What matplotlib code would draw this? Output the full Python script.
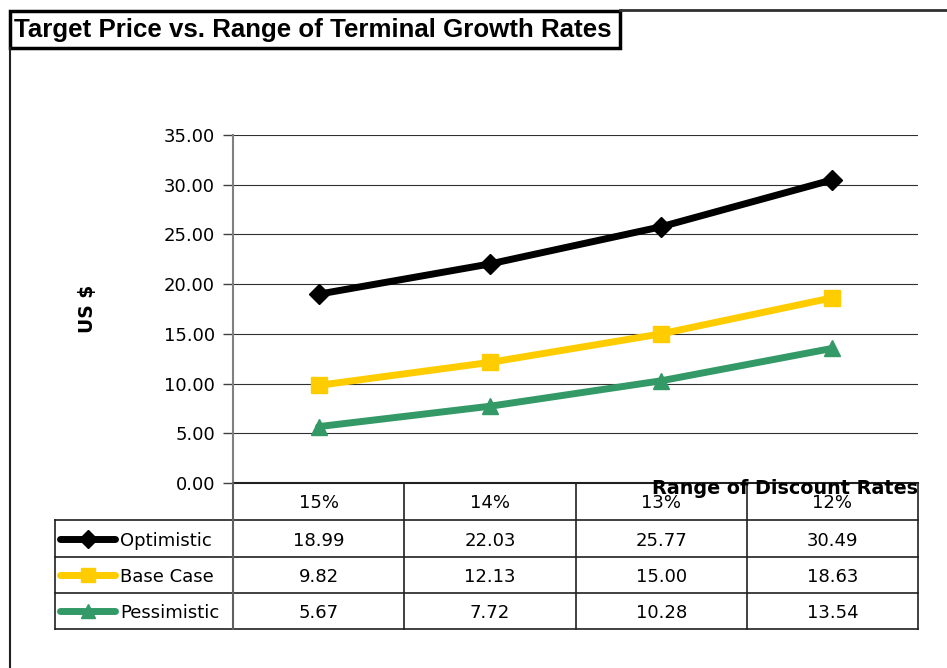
import matplotlib.pyplot as plt
import numpy as np
from matplotlib.lines import Line2D
from matplotlib.patches import Rectangle

################################################################################
# data

discountRates = ["15%", "14%", "13%", "12%"]
seriesNames = ["Optimistic", "Base Case", "Pessimistic"]
optimistic = [18.99, 22.03, 25.77, 30.49]
baseCase = [9.82, 12.13, 15.00, 18.63]
pessimistic = [5.67, 7.72, 10.28, 13.54]
yTicks = [0, 5, 10, 15, 20, 25, 30, 35]

################################################################################

W, H = 947, 668
fig = plt.figure(figsize=(W / 100, H / 100), dpi=100)

def fx(px):
   return px / W

def fy(py):
   return 1 - py / H

def hline(x0, x1, y, **kw):
   fig.add_artist(Line2D([fx(x0), fx(x1)], [fy(y), fy(y)], **kw))

def vline(x, y0, y1, **kw):
   fig.add_artist(Line2D([fx(x), fx(x)], [fy(y0), fy(y1)], **kw))

plotL, plotR, plotT, plotB = 233, 918, 135, 483
ax = fig.add_axes([fx(plotL), fy(plotB), fx(plotR - plotL), (plotB - plotT) / H])

seriesData = [optimistic, baseCase, pessimistic]
colors = ["#000000", "#FFCC00", "#339966"]
markers = ["D", "s", "^"]
msizes = [10, 11, 11]
xs = np.arange(len(discountRates))

for vals, c, m, ms in zip(seriesData, colors, markers, msizes):
   ax.plot(xs, vals, color=c, lw=5, marker=m, markersize=ms,
           solid_capstyle="round", clip_on=False, zorder=3)

ax.set_xlim(-0.5, len(discountRates) - 0.5)
ax.set_ylim(0, 35)
ax.set_yticks(yTicks)
ax.set_yticklabels([f"{v:.2f}" for v in yTicks])
ax.set_xticks([])
ax.tick_params(axis="y", length=7, width=1, color="#404040", labelsize=13, pad=6)
ax.yaxis.grid(True, color="#303030", lw=0.8)
for s in ["top", "right", "bottom"]:
   ax.spines[s].set_visible(False)
ax.spines["left"].set_color("#808080")
ax.spines["left"].set_linewidth(1.5)

ax.set_ylabel("US $", fontsize=13.5, fontweight="bold", labelpad=48)

################################################################################
# data table under the plot

catW = (plotR - plotL) / len(discountRates)
rowTops = [483, 520, 557, 593, 629]
tableL = 55
lc = "#202020"

hline(plotL, plotR, rowTops[0], color="#202020", lw=1.5)
for y in rowTops[1:]:
   hline(tableL, plotR, y, color=lc, lw=1.2)
vline(tableL, rowTops[1], rowTops[-1], color=lc, lw=1.2)
vline(plotL, rowTops[0], rowTops[-1], color="#606060", lw=1.5)
for i in range(1, len(discountRates) + 1):
   vline(plotL + i * catW, rowTops[0], rowTops[-1], color=lc, lw=1.2)

for i, lab in enumerate(discountRates):
   cx = plotL + (i + 0.5) * catW
   fig.text(fx(cx), fy((rowTops[0] + rowTops[1]) / 2 + 1), lab, ha="center", va="center", fontsize=13)

for r, (name, vals, c, m, ms) in enumerate(zip(seriesNames, seriesData, colors, markers, msizes)):
   cy = (rowTops[r + 1] + rowTops[r + 2]) / 2 + 2
   fig.add_artist(Line2D([fx(60), fx(115)], [fy(cy - 2), fy(cy - 2)], color=c, lw=5,
                         solid_capstyle="round"))
   fig.add_artist(Line2D([fx(88)], [fy(cy - 2)], color=c, marker=m, markersize=ms - 1, lw=0))
   fig.text(fx(120), fy(cy), name, ha="left", va="center", fontsize=13)
   for i, v in enumerate(vals):
      cx = plotL + (i + 0.5) * catW
      fig.text(fx(cx), fy(cy), f"{v:.2f}", ha="center", va="center", fontsize=13)

fig.text(fx(918), fy(489), "Range of Discount Rates", ha="right", va="center",
         fontsize=13.8, fontweight="bold")

################################################################################
# title box and chart border

fig.add_artist(Line2D([fx(10), fx(10)], [fy(48), fy(668)], color="#202020", lw=1.5))
hline(620, W, 10, color="#303030", lw=2)
fig.add_artist(Rectangle((fx(10), fy(48)), fx(610), 37 / H, fill=False, ec="black", lw=2.5))
fig.text(fx(14), fy(30), "Target Price vs. Range of Terminal Growth Rates",
         ha="left", va="center", fontsize=18.6, fontweight="bold", family="Liberation Sans")

fig.savefig("out.png", dpi=100)
